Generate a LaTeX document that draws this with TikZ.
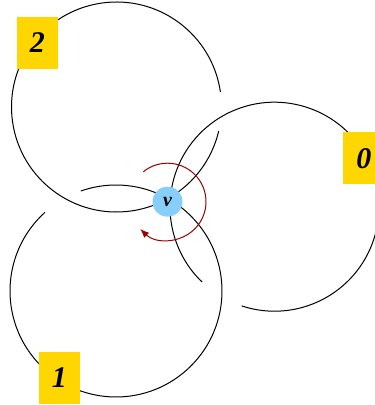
\documentclass[tikz,border=0pt]{standalone}
\usepackage{fontspec}
\setmainfont{Liberation Serif}
\usetikzlibrary{arrows.meta,calc}
\definecolor{TurnClr}{rgb}{0.6,0,0}
\definecolor{VertClr}{rgb}{0.53,0.81,0.98}
\definecolor{TagClr}{rgb}{1,0.84,0}

\begin{document}
\begin{tikzpicture}[x=1pt,y=1pt,
  looparc/.style={line width=1pt,color=black},
  turn/.style={line width=1pt,color=TurnClr},
  vert/.style={circle,fill=VertClr,minimum size=30pt,inner sep=0pt,
    font=\fontsize{20}{20}\selectfont\bfseries\itshape},
  tag/.style={fill=TagClr,minimum width=41pt,minimum height=52pt,inner sep=0pt,
    font=\fontsize{30}{32}\selectfont\bfseries\itshape}]

\useasboundingbox (0,0) rectangle (375,405);

\coordinate (C0) at (274.5,198.3);
\coordinate (C1) at (116,114);
\coordinate (C2) at (116.5,298);

\draw[looparc] (C2) ++(8.3:105) arc (8.3:346.7:105);
\draw[looparc] (C1) ++(132.1:106) arc (132.1:469.4:106);
\draw[looparc] (C0) ++(251.7:104.5) arc (251.7:586.1:104.5);

\coordinate (V0) at (167.5,203.3);
\draw[turn,-{Latex[length=9pt,width=7pt]}] (V0) ++(129:38.5) arc (129:-135:38.5);

\node[vert] (V) at (V0) {v};

\node[tag] (L2) at (37.5,362) {2};
\node[tag] (L0) at (363.8,246.5) {0};
\node[tag] (L1) at (59.5,27.2) {1};

\end{tikzpicture}
\end{document}
